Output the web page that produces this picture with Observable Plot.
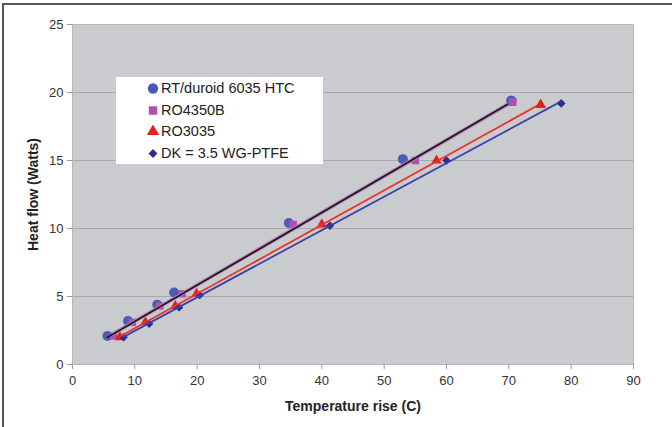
<!DOCTYPE html>
<html>
<head>
<meta charset="utf-8">
<script src="https://cdn.jsdelivr.net/npm/d3@7"></script>
<script src="https://cdn.jsdelivr.net/npm/@observablehq/plot@0.6"></script>
<style>
  html, body { margin: 0; padding: 0; background: #fff; }
  body { width: 672px; height: 427px; overflow: hidden; position: relative; font-family: "Liberation Sans", Arial, sans-serif; }
  #frame { position: absolute; left: 2px; top: 3px; width: 680px; height: 440px; border-top: 2px solid #555; border-left: 2px solid #555; pointer-events: none; }
  #chart { position: absolute; left: 0; top: 0; }
  #legend { position: absolute; left: 116px; top: 77px; width: 207px; height: 87px; background: #fff; font-size: 14.5px; color: #222; }
  #legend .row { position: absolute; left: 31px; height: 20px; display: flex; align-items: center; }
  #legend .row svg { margin-right: 2px; }
</style>
</head>
<body>
<div id="chart"></div>
<div id="legend"></div>
<div id="frame"></div>
<script>
// Series (x = temperature rise in C, y = heat flow in Watts)
const seriesNames = ["RT/duroid 6035 HTC", "RO4350B", "RO3035", "DK = 3.5 WG-PTFE"];
const rtX = [5.6, 8.9, 13.6, 16.3, 34.7, 53.0, 70.4];
const rtY = [2.1, 3.2, 4.4, 5.3, 10.4, 15.1, 19.4];
const ro4350X = [6.6, 9.6, 14.0, 17.6, 35.4, 55.0, 70.6];
const ro4350Y = [2.1, 3.1, 4.3, 5.2, 10.3, 15.0, 19.3];
const ro3035X = [7.6, 11.7, 16.5, 19.9, 40.0, 58.4, 75.1];
const ro3035Y = [2.0, 3.1, 4.3, 5.2, 10.3, 15.0, 19.1];
const dkX = [8.2, 12.3, 17.1, 20.4, 41.3, 60.0, 78.4];
const dkY = [2.0, 3.0, 4.2, 5.1, 10.2, 15.0, 19.2];
const xTicks = [0, 10, 20, 30, 40, 50, 60, 70, 80, 90];
const yTicks = [0, 5, 10, 15, 20, 25];

const colors = ["#4a5cb5", "#b24fae", "#e3211c", "#2b2c8c"];
const lineColors = ["#111111", "#b27ab4", "#e8342c", "#3a44a8"];
const symbols = ["circle", "square", "triangle", "diamond2"];

const toRows = (xs, ys, s) => xs.map((x, i) => ({x, y: ys[i], s}));
const sets = [
  toRows(rtX, rtY, seriesNames[0]),
  toRows(ro4350X, ro4350Y, seriesNames[1]),
  toRows(ro3035X, ro3035Y, seriesNames[2]),
  toRows(dkX, dkY, seriesNames[3])
];
const sizes = [5, 4.2, 3.9, 3.8];
const ends = d => [d[0], d[d.length - 1]];

const marks = [
  Plot.frame({fill: "#c9cbce", stroke: null}),
  Plot.gridY(yTicks.filter(d => d > 0 && d < 25), {stroke: "#a6a8ab", strokeOpacity: 1, strokeWidth: 1}),
  Plot.ruleX([0], {stroke: "#9a9a9a"}),
  Plot.ruleY([0], {stroke: "#9a9a9a"}),
  Plot.frame({stroke: "#b5b7ba", fill: null})
];
sets.forEach((d, i) => {
  marks.push(Plot.dot(d, {x: "x", y: "y", symbol: () => symbols[i], r: sizes[i], fill: colors[i], stroke: null}));
});
// trend lines
marks.push(Plot.linearRegressionY(sets[1], {x: "x", y: "y", stroke: lineColors[1], strokeWidth: 3.5, ci: 0}));
marks.push(Plot.line(ends(sets[0]), {x: "x", y: "y", stroke: lineColors[0], strokeWidth: 1.5, dy: 1.5}));
marks.push(Plot.linearRegressionY(sets[2], {x: "x", y: "y", stroke: lineColors[2], strokeWidth: 1.8, ci: 0}));
marks.push(Plot.linearRegressionY(sets[3], {x: "x", y: "y", stroke: lineColors[3], strokeWidth: 1.8, ci: 0}));
sets.forEach((d, i) => {
  marks.push(Plot.dot(d.slice(-1), {x: "x", y: "y", symbol: () => symbols[i], r: sizes[i], fill: colors[i], stroke: null}));
});
marks.push(Plot.axisX({ticks: xTicks, tickSize: 5, tickPadding: 6, stroke: "#9a9a9a", fill: "#333", fontSize: 13,
  label: "Temperature rise (C)", labelAnchor: "center", labelArrow: "none", labelOffset: 46}));
marks.push(Plot.axisY({ticks: yTicks, tickSize: 5, tickPadding: 4, stroke: "#9a9a9a", fill: "#333", fontSize: 13,
  label: "Heat flow (Watts)", labelAnchor: "center", labelArrow: "none", labelOffset: 44}));

const chart = Plot.plot({
  width: 672,
  height: 427,
  marginLeft: 72,
  marginRight: 39,
  marginTop: 24,
  marginBottom: 63,
  style: {fontFamily: "'Liberation Sans', Arial, sans-serif", fontSize: "13px", background: "transparent"},
  x: {domain: [0, 90]},
  y: {domain: [0, 25]},
  marks
});
d3.select(chart).selectAll("[aria-label='x-axis label'] text, [aria-label='y-axis label'] text")
  .style("font-weight", "bold").style("fill", "#222").style("font-size", "14px");
d3.select(chart).selectAll("[aria-label='x-axis label'], [aria-label='y-axis label']")
  .style("font-weight", "bold").style("font-size", "14px");
document.getElementById("chart").appendChild(chart);

// legend
const legend = d3.select("#legend");
const symGen = {circle: d3.symbolCircle, square: d3.symbolSquare, triangle: d3.symbolTriangle, diamond2: d3.symbolDiamond2};
const symArea = [85, 72, 64, 50];
seriesNames.forEach((name, i) => {
  const row = legend.append("div").attr("class", "row").style("top", (1 + i * 21.5) + "px");
  const svg = row.append("svg").attr("width", 12).attr("height", 12);
  svg.append("path").attr("transform", "translate(6,6.5)")
    .attr("d", d3.symbol(symGen[symbols[i]], symArea[i])()).attr("fill", colors[i]);
  row.append("span").text(name);
});
</script>
</body>
</html>
